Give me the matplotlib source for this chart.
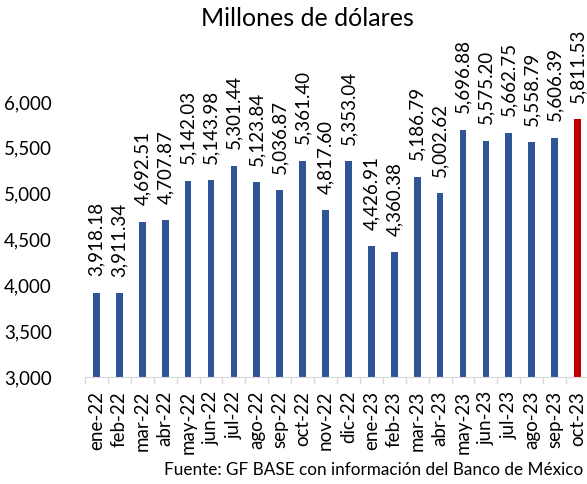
import matplotlib.pyplot as plt
import numpy as np

plt.rcParams['font.family'] = ['Lato', 'DejaVu Sans']

meses = ["ene-22", "feb-22", "mar-22", "abr-22", "may-22", "jun-22", "jul-22",
         "ago-22", "sep-22", "oct-22", "nov-22", "dic-22", "ene-23", "feb-23",
         "mar-23", "abr-23", "may-23", "jun-23", "jul-23", "ago-23", "sep-23",
         "oct-23"]
valores = [3918.18, 3911.34, 4692.51, 4707.87, 5142.03, 5143.98, 5301.44,
           5123.84, 5036.87, 5361.40, 4817.60, 5353.04, 4426.91, 4360.38,
           5186.79, 5002.62, 5696.88, 5575.20, 5662.75, 5558.79, 5606.39,
           5811.53]

azul = "#2F5597"
rojo = "#C00000"
colores = [azul] * (len(valores) - 1) + [rojo]

fig = plt.figure(figsize=(5.87, 4.84), dpi=100)
ax = fig.add_axes([85 / 587, 107 / 484, 504 / 587, 275 / 484])

x = np.arange(len(meses))
ax.bar(x, valores, width=0.29, color=colores)

for xi, v in zip(x, valores):
    ax.annotate(f"{v:,.2f}", (xi, v), xytext=(0, 12), textcoords="offset points",
                rotation=90, ha="center", va="bottom", fontsize=13.5,
                color="#000000", annotation_clip=False)

ax.set_xlim(-0.5, len(meses) - 0.5)
ax.set_ylim(3000, 6000)
ax.set_yticks(np.arange(3000, 6001, 500))
ax.set_yticklabels([f"{t:,}" for t in range(3000, 6001, 500)], fontsize=13.5)

ax.set_xticks(x)
ax.set_xticklabels(meses, rotation=90, fontsize=13.5)
ax.set_xticks(np.arange(-0.5, len(meses)), minor=True)
ax.tick_params(axis="x", which="major", length=0, pad=10)
ax.tick_params(axis="x", which="minor", length=5, color="#D9D9D9", width=1)
ax.tick_params(axis="y", length=0, pad=24)

for s in ["top", "right", "left"]:
    ax.spines[s].set_visible(False)
ax.spines["bottom"].set_color("#D9D9D9")

fig.text(307 / 587, 1 - 18 / 484, "Millones de dólares", ha="center",
         va="center", fontsize=18)
fig.text(583 / 587, 1 - 470 / 484,
         "Fuente: GF BASE con información del Banco de México",
         ha="right", va="center", fontsize=12.3)

fig.savefig("out.png", dpi=100)
